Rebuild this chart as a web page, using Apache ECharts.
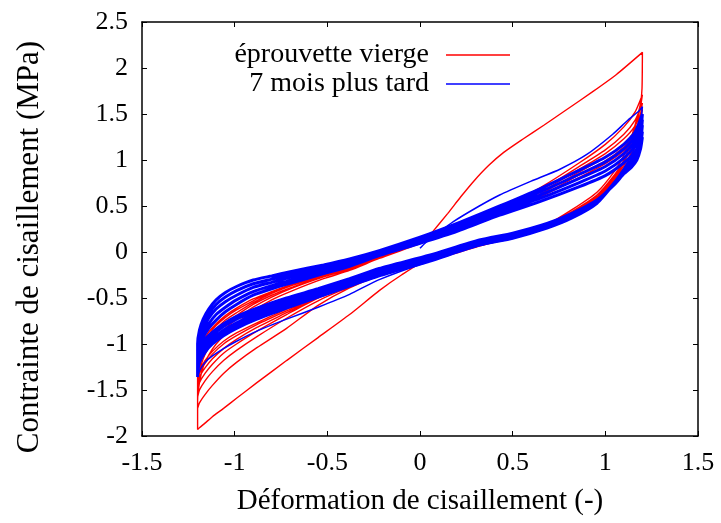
<!DOCTYPE html>
<html>
<head>
<meta charset="utf-8">
<script src="https://cdn.jsdelivr.net/npm/echarts/dist/echarts.min.js"></script>
<style>
  html, body { margin: 0; padding: 0; background: #fff; }
  #chart { width: 721px; height: 523px; }
</style>
</head>
<body>
<div id="chart"></div>
<script>
// Axis ticks
const xTicks = [-1.5, -1, -0.5, 0, 0.5, 1, 1.5];
const yTicks = [-2, -1.5, -1, -0.5, 0, 0.5, 1, 1.5, 2, 2.5];

// Strain grids shared by the cycle branches
// increasing strain (left reversal -> right reversal)
const strainUp = [-1.2, -1.19, -1.17, -1.14, -1.1, -1.05, -0.99, -0.9, -0.8, -0.7, -0.52, -0.38, -0.22, 0, 0.2, 0.43, 0.65, 0.86, 1.0, 1.1, 1.16, 1.2];
// decreasing strain (right reversal -> left reversal)
const strainDown = [1.19, 1.17, 1.14, 1.1, 1.05, 0.955, 0.82, 0.685, 0.5, 0.32, 0.05, -0.22, -0.38, -0.55, -0.72, -0.88, -0.99, -1.06, -1.12, -1.16, -1.19, -1.2];

// ---- éprouvette vierge (red) ----
const virginLoadStrain = [0.02, 0.06, 0.15, 0.22, 0.29, 0.37, 0.45, 0.55, 0.67, 0.8, 0.93, 1.06, 1.2];
const virginLoadStress = [0.1, 0.2, 0.42, 0.6, 0.77, 0.94, 1.08, 1.22, 1.38, 1.56, 1.74, 1.93, 2.17];
const virginFirstDownStrain = [1.198, 1.19, 1.17, 1.14, 1.1, 1.05, 0.955, 0.82, 0.685, 0.5, 0.32, 0.05, -0.1, -0.22, -0.38, -0.55, -0.72, -0.88, -0.99, -1.06, -1.12, -1.16, -1.19, -1.2];
const virginFirstDownStress = [1.78, 1.62, 1.45, 1.25, 1.05, 0.88, 0.65, 0.46, 0.3, 0.17, 0.07, -0.07, -0.25, -0.42, -0.68, -0.93, -1.18, -1.42, -1.59, -1.7, -1.79, -1.86, -1.91, -1.93];

const virginUp1 = [-1.62, -1.42, -1.25, -1.12, -1.0, -0.89, -0.78, -0.64, -0.52, -0.43, -0.29, -0.2, -0.07, 0.09, 0.25, 0.46, 0.7, 0.97, 1.17, 1.36, 1.52, 1.71];
const virginDown2 = [1.58, 1.42, 1.2, 1.0, 0.84, 0.62, 0.44, 0.29, 0.16, 0.065, -0.1, -0.26, -0.39, -0.58, -0.83, -1.04, -1.2, -1.32, -1.45, -1.55, -1.64, -1.70];
const virginUp2 = [-1.45, -1.3, -1.16, -1.04, -0.93, -0.83, -0.73, -0.6, -0.49, -0.4, -0.27, -0.185, -0.06, 0.095, 0.25, 0.45, 0.67, 0.93, 1.11, 1.28, 1.43, 1.62];
const virginDown3 = [1.5, 1.34, 1.14, 0.97, 0.82, 0.6, 0.43, 0.285, 0.16, 0.065, -0.1, -0.255, -0.38, -0.53, -0.72, -0.92, -1.07, -1.18, -1.3, -1.4, -1.5, -1.58];
const virginUp3 = [-1.38, -1.24, -1.1, -0.98, -0.88, -0.78, -0.69, -0.57, -0.47, -0.39, -0.265, -0.18, -0.055, 0.1, 0.25, 0.44, 0.65, 0.9, 1.07, 1.23, 1.37, 1.55];
const virginDown4 = [1.43, 1.26, 1.08, 0.94, 0.8, 0.59, 0.42, 0.28, 0.16, 0.065, -0.1, -0.25, -0.37, -0.5, -0.68, -0.86, -1.0, -1.1, -1.22, -1.32, -1.42, -1.5];
const virginUp4 = [-1.32, -1.18, -1.05, -0.94, -0.84, -0.74, -0.66, -0.55, -0.45, -0.37, -0.255, -0.17, -0.05, 0.1, 0.245, 0.43, 0.63, 0.87, 1.03, 1.18, 1.32, 1.5];
const virginDown5 = [1.38, 1.2, 1.04, 0.91, 0.78, 0.58, 0.41, 0.28, 0.16, 0.07, -0.1, -0.245, -0.36, -0.49, -0.66, -0.82, -0.95, -1.05, -1.16, -1.26, -1.36, -1.45];
const virginUp5 = [-1.27, -1.13, -1.0, -0.9, -0.8, -0.71, -0.63, -0.53, -0.44, -0.36, -0.25, -0.165, -0.045, 0.1, 0.24, 0.42, 0.61, 0.84, 0.99, 1.14, 1.28, 1.45];
const virginDown6 = [1.28, 1.1, 0.97, 0.87, 0.75, 0.565, 0.41, 0.28, 0.165, 0.075, -0.095, -0.24, -0.35, -0.48, -0.64, -0.79, -0.91, -1.0, -1.11, -1.21, -1.32, -1.4];
const virginUp6 = [-1.22, -1.09, -0.97, -0.87, -0.78, -0.69, -0.61, -0.51, -0.43, -0.355, -0.245, -0.16, -0.04, 0.1, 0.24, 0.41, 0.6, 0.81, 0.96, 1.1, 1.24, 1.4];
const virginDown7 = [1.22, 1.05, 0.95, 0.86, 0.745, 0.565, 0.41, 0.285, 0.17, 0.08, -0.09, -0.23, -0.34, -0.47, -0.62, -0.77, -0.88, -0.97, -1.08, -1.18, -1.29, -1.36];

// ---- 7 mois plus tard (blue) ----
const agedLoadStrain = [0, 0.03, 0.08, 0.18, 0.32, 0.43, 0.6, 0.755, 0.9, 1.04, 1.12, 1.18, 1.2];
const agedLoadStress = [0.04, 0.1, 0.18, 0.33, 0.5, 0.62, 0.77, 0.9, 1.06, 1.28, 1.43, 1.53, 1.58];
const agedDown1 = [1.4, 1.2, 1.05, 0.91, 0.77, 0.55, 0.38, 0.26, 0.15, 0.07, -0.1, -0.3, -0.46, -0.6, -0.73, -0.86, -0.97, -1.05, -1.13, -1.2, -1.29, -1.36];
const agedUp1 = [-1.0, -0.85, -0.73, -0.62, -0.52, -0.44, -0.375, -0.305, -0.26, -0.215, -0.14, -0.075, 0.015, 0.16, 0.31, 0.5, 0.69, 0.89, 1.03, 1.17, 1.3, 1.5];
const agedDown2 = [1.3, 1.12, 1.0, 0.89, 0.75, 0.53, 0.37, 0.26, 0.15, 0.075, -0.1, -0.26, -0.37, -0.49, -0.61, -0.73, -0.83, -0.91, -1.0, -1.09, -1.2, -1.32];
const agedUp2 = [-1.04, -0.9, -0.78, -0.67, -0.57, -0.49, -0.42, -0.345, -0.295, -0.245, -0.165, -0.095, 0.0, 0.145, 0.29, 0.475, 0.655, 0.845, 0.98, 1.12, 1.25, 1.44];
const agedDown3 = [1.25, 1.09, 0.98, 0.88, 0.75, 0.54, 0.385, 0.27, 0.16, 0.09, -0.085, -0.24, -0.35, -0.47, -0.58, -0.7, -0.8, -0.88, -0.97, -1.06, -1.17, -1.28];
const agedUp3 = [-1.08, -0.94, -0.83, -0.72, -0.62, -0.54, -0.47, -0.385, -0.33, -0.275, -0.19, -0.115, -0.015, 0.13, 0.27, 0.45, 0.62, 0.8, 0.93, 1.07, 1.2, 1.38];
const agedDown4 = [1.2, 1.06, 0.96, 0.87, 0.745, 0.55, 0.395, 0.285, 0.175, 0.105, -0.065, -0.22, -0.33, -0.45, -0.55, -0.67, -0.77, -0.85, -0.94, -1.03, -1.13, -1.23];
const agedUp4 = [-1.12, -0.99, -0.88, -0.78, -0.68, -0.6, -0.52, -0.43, -0.365, -0.31, -0.21, -0.135, -0.03, 0.11, 0.25, 0.425, 0.585, 0.755, 0.88, 1.02, 1.15, 1.31];
const agedDown5 = [1.16, 1.03, 0.94, 0.86, 0.74, 0.56, 0.41, 0.3, 0.19, 0.12, -0.05, -0.2, -0.31, -0.42, -0.52, -0.64, -0.73, -0.81, -0.9, -0.99, -1.09, -1.19];
const agedUp5 = [-1.17, -1.04, -0.93, -0.83, -0.74, -0.65, -0.57, -0.47, -0.4, -0.34, -0.235, -0.155, -0.04, 0.095, 0.225, 0.4, 0.55, 0.71, 0.83, 0.97, 1.09, 1.25];
const agedDown6 = [1.12, 1.0, 0.92, 0.85, 0.735, 0.565, 0.42, 0.31, 0.205, 0.13, -0.035, -0.18, -0.29, -0.4, -0.5, -0.61, -0.7, -0.78, -0.87, -0.95, -1.05, -1.15];

const RED = '#ff0000';
const BLUE = '#0000ff';
const FONT = '"Liberation Serif", "Times New Roman", serif';

// pair a strain grid with a stress list
function zip(xs, ys) { return xs.map((x, i) => [x, ys[i]]); }
// chain branches into one continuous recording
function chain(parts) { return parts.reduce((acc, p) => acc.concat(p), []); }

const virginPath = chain([
  zip(virginLoadStrain, virginLoadStress),
  zip(virginFirstDownStrain, virginFirstDownStress),
  zip(strainUp, virginUp1), zip(strainDown, virginDown2),
  zip(strainUp, virginUp2), zip(strainDown, virginDown3),
  zip(strainUp, virginUp3), zip(strainDown, virginDown4),
  zip(strainUp, virginUp4), zip(strainDown, virginDown5),
  zip(strainUp, virginUp5), zip(strainDown, virginDown6),
  zip(strainUp, virginUp6), zip(strainDown, virginDown7)
]);

const agedFirst = chain([
  zip(agedLoadStrain, agedLoadStress),
  zip(strainDown, agedDown1)
]);
const agedCycles = chain([
  [agedFirst[agedFirst.length - 1]],
  zip(strainUp, agedUp1), zip(strainDown, agedDown2),
  zip(strainUp, agedUp2), zip(strainDown, agedDown3),
  zip(strainUp, agedUp3), zip(strainDown, agedDown4),
  zip(strainUp, agedUp4), zip(strainDown, agedDown5),
  zip(strainUp, agedUp5), zip(strainDown, agedDown6)
]);

const chart = echarts.init(document.getElementById('chart'), null, { renderer: 'canvas' });

const axisCommon = {
  axisLine: { show: true, onZero: false, lineStyle: { color: '#000', width: 1.5 } },
  axisTick: { show: true, inside: true, length: 5, lineStyle: { color: '#000', width: 1 } },
  splitLine: { show: false }
};

const SMOOTH = 0.2;

chart.setOption({
  animation: false,
  backgroundColor: '#fff',
  grid: { left: 142, right: 23, top: 22, bottom: 87, containLabel: false },
  legend: {
    orient: 'vertical',
    right: 206,
    top: 36,
    align: 'right',
    icon: 'rect',
    itemWidth: 64,
    itemHeight: 1.5,
    itemGap: 1,
    data: ['éprouvette vierge', '7 mois plus tard'],
    textStyle: { fontFamily: FONT, fontSize: 28, color: '#000', lineHeight: 28, padding: [0, 12, 0, 0] }
  },
  xAxis: [
    Object.assign({
      type: 'value', position: 'bottom',
      min: xTicks[0], max: xTicks[xTicks.length - 1], interval: 0.5,
      name: 'Déformation de cisaillement (-)',
      nameLocation: 'middle', nameGap: 51,
      nameTextStyle: { fontFamily: FONT, fontSize: 29, color: '#000' },
      axisLabel: { show: true, margin: 14, fontFamily: FONT, fontSize: 26, color: '#000',
        formatter: v => String(v) }
    }, axisCommon),
    Object.assign({
      type: 'value', position: 'top',
      min: xTicks[0], max: xTicks[xTicks.length - 1], interval: 0.5,
      axisLabel: { show: false }
    }, axisCommon)
  ],
  yAxis: [
    Object.assign({
      type: 'value', position: 'left',
      min: yTicks[0], max: yTicks[yTicks.length - 1], interval: 0.5,
      name: 'Contrainte de cisaillement (MPa)',
      nameLocation: 'middle', nameGap: 97,
      nameTextStyle: { fontFamily: FONT, fontSize: 31, color: '#000', padding: [0, 36, 0, 0] },
      axisLabel: { show: true, margin: 14, fontFamily: FONT, fontSize: 26, color: '#000',
        formatter: v => String(v) }
    }, axisCommon),
    Object.assign({
      type: 'value', position: 'right',
      min: yTicks[0], max: yTicks[yTicks.length - 1], interval: 0.5,
      axisLabel: { show: false }
    }, axisCommon)
  ],
  series: [
    {
      name: 'éprouvette vierge', type: 'line', xAxisIndex: 0, yAxisIndex: 0,
      data: virginPath, symbol: 'none', showSymbol: false, smooth: SMOOTH,
      lineStyle: { color: RED, width: 1.4 }, itemStyle: { color: RED }, z: 2
    },
    {
      name: '7 mois plus tard', type: 'line', xAxisIndex: 0, yAxisIndex: 0,
      data: agedFirst, symbol: 'none', showSymbol: false, smooth: SMOOTH,
      lineStyle: { color: BLUE, width: 1.5 }, itemStyle: { color: BLUE }, z: 3
    },
    {
      name: '7 mois plus tard', type: 'line', xAxisIndex: 0, yAxisIndex: 0,
      data: agedCycles, symbol: 'none', showSymbol: false, smooth: SMOOTH,
      lineStyle: { color: BLUE, width: 3 }, itemStyle: { color: BLUE }, z: 3
    }
  ]
});
</script>
</body>
</html>
